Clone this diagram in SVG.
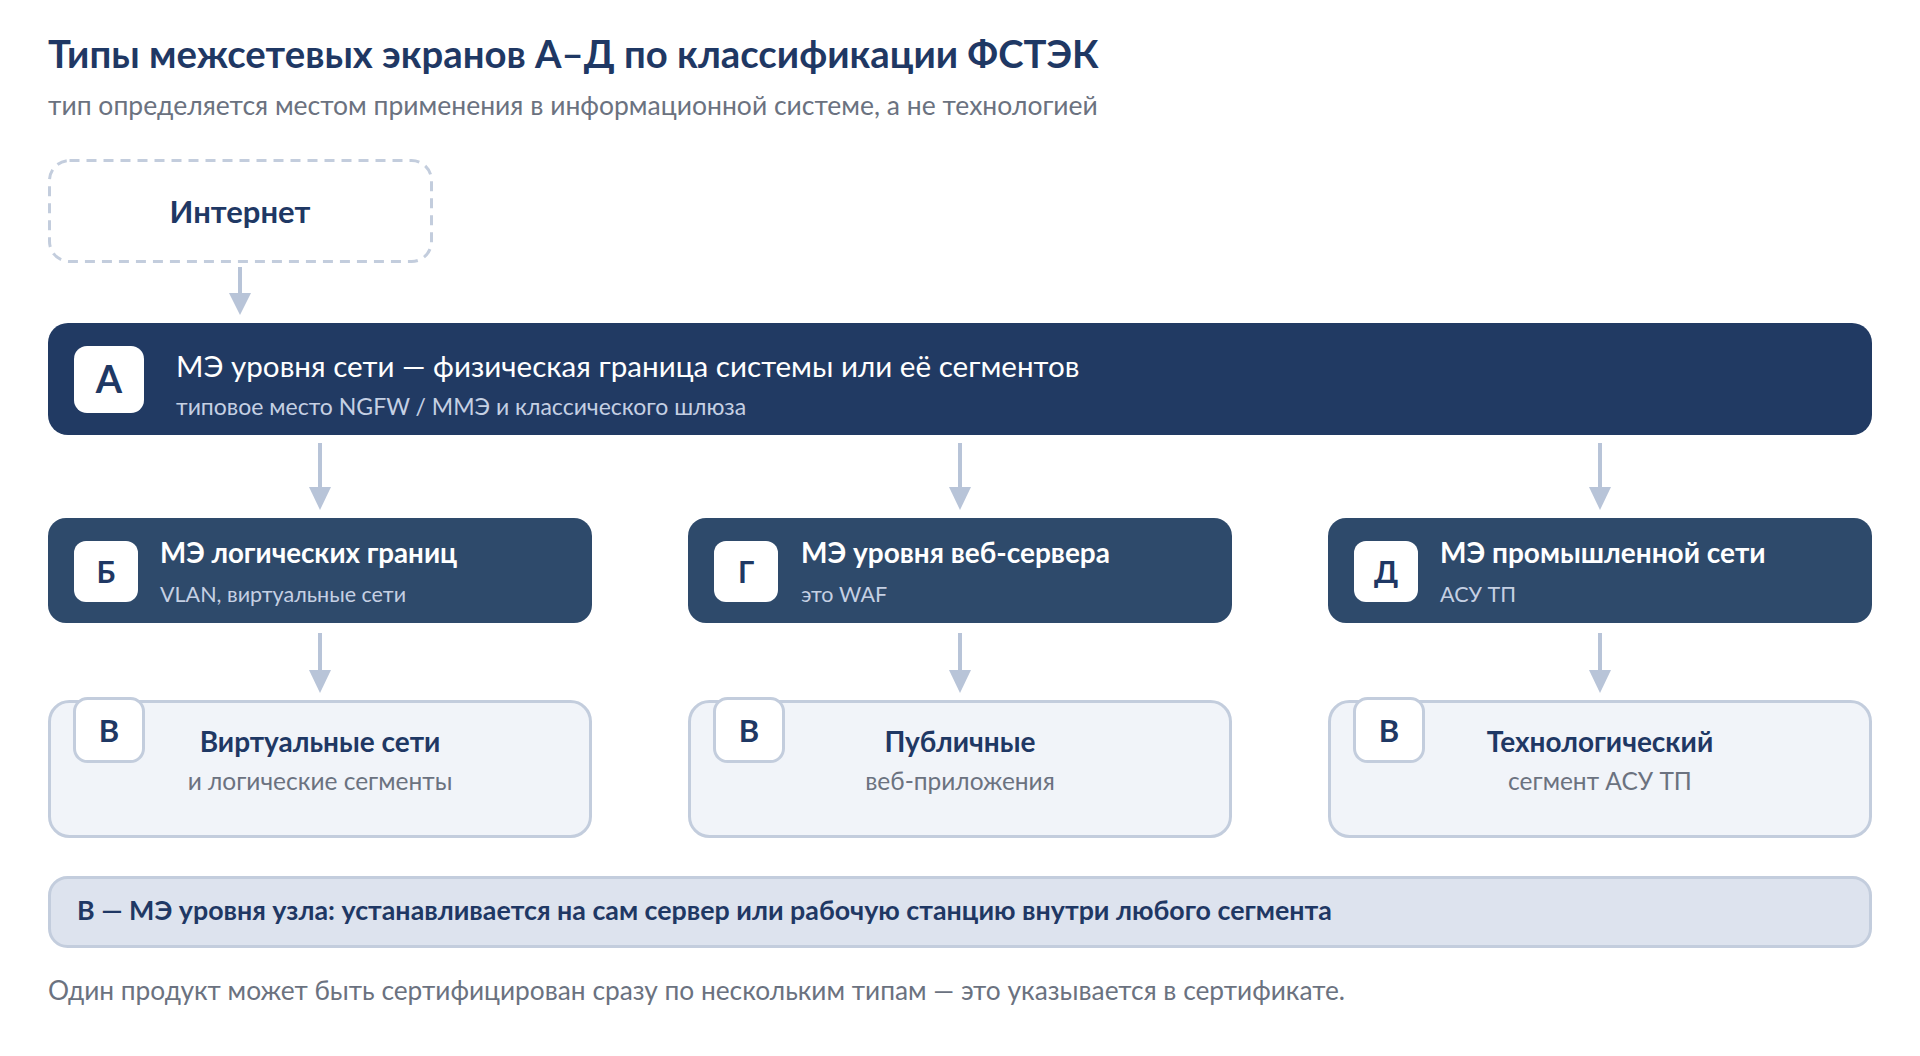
<svg xmlns="http://www.w3.org/2000/svg" width="1920" height="1056" viewBox="0 0 1920 1056">
<defs>
<style>
text{font-family:Lato,"Noto Sans","DejaVu Sans",sans-serif}
.title{font-size:38.3px;font-weight:700;fill:#1f3864}
.sub{font-size:26.5px;fill:#6b7280}
.dark{fill:#213a63}
.mid{fill:#2e4a6b}
.light{fill:#f1f4f9;stroke:#c3cddd;stroke-width:3}
.badge{fill:#ffffff}
.badgeL{fill:#ffffff;stroke:#c3cddd;stroke-width:3}
.bl{font-weight:700;fill:#1f3864;text-anchor:middle}
.wt{fill:#ffffff;font-weight:700;font-size:28px}
.ws{fill:#c5d0e3;font-size:21.5px}
.nt{fill:#1f3864;font-weight:700;font-size:28px;text-anchor:middle}
.ns{fill:#6b7280;font-size:24.5px;text-anchor:middle}
.conn line{stroke:#b8c4d8;stroke-width:4}
.conn polygon{fill:#b8c4d8}
</style>
</defs>
<rect width="1920" height="1056" fill="#ffffff"/>
<text class="title" x="48" y="68">Типы межсетевых экранов А–Д по классификации ФСТЭК</text>
<text class="sub" x="48" y="115">тип определяется местом применения в информационной системе, а не технологией</text>

<g id="connectors" class="conn">
<line x1="240" y1="267" x2="240" y2="296"/><polygon points="229,293 251,293 240,315"/>
<line x1="320" y1="443" x2="320" y2="490"/><polygon points="309,487 331,487 320,510"/>
<line x1="960" y1="443" x2="960" y2="490"/><polygon points="949,487 971,487 960,510"/>
<line x1="1600" y1="443" x2="1600" y2="490"/><polygon points="1589,487 1611,487 1600,510"/>
<line x1="320" y1="633" x2="320" y2="673"/><polygon points="309,670 331,670 320,693"/>
<line x1="960" y1="633" x2="960" y2="673"/><polygon points="949,670 971,670 960,693"/>
<line x1="1600" y1="633" x2="1600" y2="673"/><polygon points="1589,670 1611,670 1600,693"/>
</g>

<g id="internet">
<rect x="49.5" y="160.5" width="382" height="101" rx="20" fill="none" stroke="#c3cddd" stroke-width="3" stroke-dasharray="10 7"/>
<text class="nt" x="240" y="223" style="font-size:31px">Интернет</text>
</g>

<g id="node-a">
<rect class="dark" x="48" y="323" width="1824" height="112" rx="20"/>
<rect class="badge" x="74" y="346" width="70" height="67" rx="13"/>
<text class="bl" x="109" y="393" font-size="38">А</text>
<text x="176" y="377" fill="#ffffff" font-size="29.6">МЭ уровня сети — физическая граница системы или её сегментов</text>
<text class="ws" x="176" y="415" style="font-size:23px">типовое место NGFW / ММЭ и классического шлюза</text>
</g>

<g id="node-b">
<rect class="mid" x="48" y="518" width="544" height="105" rx="18"/>
<rect class="badge" x="74" y="541" width="64" height="61" rx="12"/>
<text class="bl" x="106" y="583" font-size="30">Б</text>
<text class="wt" x="160" y="563" style="font-size:27.7px">МЭ логических границ</text>
<text class="ws" x="160" y="602">VLAN, виртуальные сети</text>
</g>

<g id="node-g">
<rect class="mid" x="688" y="518" width="544" height="105" rx="18"/>
<rect class="badge" x="714" y="541" width="64" height="61" rx="12"/>
<text class="bl" x="746" y="583" font-size="30">Г</text>
<text class="wt" x="801" y="563">МЭ уровня веб-сервера</text>
<text class="ws" x="801" y="602">это WAF</text>
</g>

<g id="node-d">
<rect class="mid" x="1328" y="518" width="544" height="105" rx="18"/>
<rect class="badge" x="1354" y="541" width="64" height="61" rx="12"/>
<text class="bl" x="1386" y="583" font-size="30">Д</text>
<text class="wt" x="1440" y="563">МЭ промышленной сети</text>
<text class="ws" x="1440" y="602">АСУ ТП</text>
</g>

<g id="node-v1">
<rect class="light" x="49.5" y="701.5" width="541" height="135" rx="20"/>
<rect class="badgeL" x="74.5" y="698.5" width="69" height="63" rx="13"/>
<text class="bl" x="109" y="742" font-size="31">В</text>
<text class="nt" x="320" y="752">Виртуальные сети</text>
<text class="ns" x="320" y="790">и логические сегменты</text>
</g>

<g id="node-v2">
<rect class="light" x="689.5" y="701.5" width="541" height="135" rx="20"/>
<rect class="badgeL" x="714.5" y="698.5" width="69" height="63" rx="13"/>
<text class="bl" x="749" y="742" font-size="31">В</text>
<text class="nt" x="960" y="752">Публичные</text>
<text class="ns" x="960" y="790">веб-приложения</text>
</g>

<g id="node-v3">
<rect class="light" x="1329.5" y="701.5" width="541" height="135" rx="20"/>
<rect class="badgeL" x="1354.5" y="698.5" width="69" height="63" rx="13"/>
<text class="bl" x="1389" y="742" font-size="31">В</text>
<text class="nt" x="1600" y="752">Технологический</text>
<text class="ns" x="1600" y="790">сегмент АСУ ТП</text>
</g>

<g id="note">
<rect x="49.5" y="877.5" width="1821" height="69" rx="18" fill="#dde3ee" stroke="#c3cddd" stroke-width="3"/>
<text x="77" y="920" fill="#1f3864" font-weight="700" font-size="26.8">В — МЭ уровня узла: устанавливается на сам сервер или рабочую станцию внутри любого сегмента</text>
</g>

<text x="48" y="1000" fill="#6b7280" font-size="26.3">Один продукт может быть сертифицирован сразу по нескольким типам — это указывается в сертификате.</text>
</svg>
